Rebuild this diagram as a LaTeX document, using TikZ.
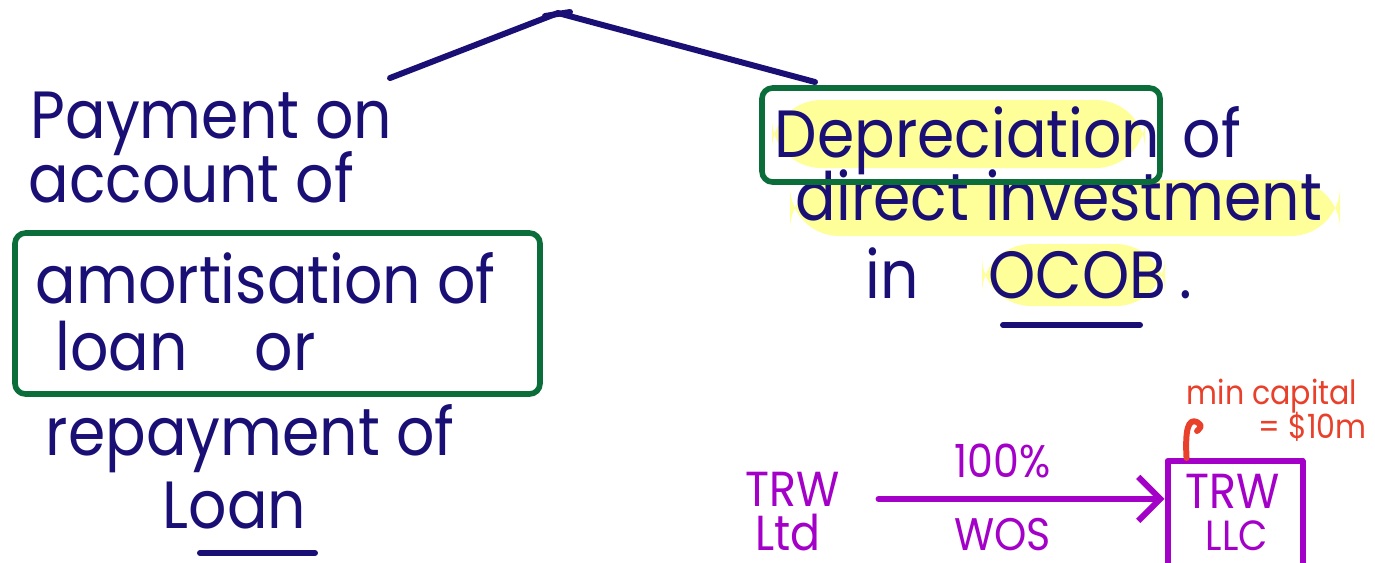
\documentclass[tikz,border=0pt]{standalone}
\usepackage{fontspec}
\setmainfont{Poppins}
\newfontfamily\handfont{Poppins}[FakeStretch=0.9]
\usetikzlibrary{arrows.meta}

\definecolor{inkblue}{HTML}{1A0F75}
\definecolor{inkgreen}{HTML}{0B6E3A}
\definecolor{hilite}{HTML}{FFFF99}
\definecolor{inkpurple}{HTML}{A300C8}
\definecolor{inkred}{HTML}{E8402A}

\begin{document}
\begin{tikzpicture}[line cap=round, line join=round,
  ink/.style={text=inkblue, font=\handfont\fontsize{19}{22}\selectfont, inner sep=0pt, anchor=base west},
  note/.style={text=inkpurple, font=\handfont\fontsize{14}{16}\selectfont, inner sep=0pt, anchor=base west},
  aside/.style={text=inkred, font=\handfont\fontsize{9.5}{11}\selectfont, inner sep=0pt, anchor=base west},
  penline/.style={line width=1.7pt},
  greenbox/.style={draw=inkgreen, line width=1.6pt, rounded corners=3pt},
  hl/.style={fill=hilite, rounded corners=14pt},
  wosarrow/.style={penline, draw=inkpurple, -{Straight Barb[length=2.2mm, width=4.4mm, line width=1.7pt]}}]

\useasboundingbox (0,0) rectangle (13.75,-5.62);
\clip (0,0) rectangle (13.75,-5.62);

%% ===================== branching strokes at the top =====================
\coordinate (peak)    at (5.58,-0.13);
\coordinate (lbranch) at (3.90,-0.78);
\coordinate (rbranch) at (8.15,-0.82);
\draw[penline, inkblue] (lbranch) -- (peak) -- (rbranch);
\draw[penline, inkblue] (5.45,-0.16) -- (5.70,-0.12);

%% ===================== left column: loan payments =====================
\node[ink] (pay)  at (0.30,-1.38) {Payment on};
\node[ink] (acc)  at (0.28,-2.02) {account of};
\node[ink] (amo)  at (0.35,-3.03) {amortisation of};
\node[ink] (loan) at (0.55,-3.70) {loan\hspace{1em}or};
\node[ink] (rep)  at (0.45,-4.55) {repayment of};
\node[ink] (Loan) at (1.62,-5.28) {Loan};
\draw[penline, inkblue] (2.00,-5.53) -- (3.15,-5.53);

% box round the amortisation lines
\draw[greenbox] (0.15,-2.33) rectangle (5.40,-3.94);

%% ===================== right column: depreciation =====================
% highlighter strokes (behind the text)
\fill[hl] (7.72,-1.00) rectangle (11.45,-1.68);
\fill[hl] (7.90,-1.80) rectangle (13.40,-2.36);
\fill[hl] (9.82,-2.44) rectangle (11.65,-3.06);

\node[ink] (dep)  at (7.74,-1.57) {Depreciation};
\node[ink] (of)   at (11.82,-1.57) {of};
\node[ink] (dir)  at (7.95,-2.20) {direct investment};
\node[ink] (in)   at (8.65,-2.98) {in};
\node[ink] (ocob) at (9.88,-2.98) {OCOB\hspace{0.2em}.};
\draw[penline, inkblue] (10.03,-3.25) -- (11.40,-3.25);

\draw[greenbox] (7.62,-0.88) rectangle (11.60,-1.82);

%% ===================== TRW Ltd -> TRW LLC =====================
\node[note] (trw) at (7.45,-5.06) {TRW};
\node[note] (ltd) at (7.55,-5.50) {Ltd};

\node[draw=inkpurple, penline, minimum width=1.35cm, minimum height=1.6cm, anchor=north]
  (llcbox) at (12.35,-4.58) {};
\node[note] (llcname) at (11.85,-5.08) {TRW};
\node[note, font=\handfont\fontsize{12}{14}\selectfont] (llc) at (12.05,-5.50) {LLC};

\draw[wosarrow, shorten <=0.38cm]
  ([yshift=-0.1cm]trw.east) -- ([yshift=-0.1cm]trw.east -| llcbox.west)
  node[midway, above=0.18cm, note, anchor=south, font=\handfont\fontsize{13}{15}\selectfont] (pct) {100\%}
  node[midway, below=0.16cm, note, anchor=north, font=\handfont\fontsize{13}{15}\selectfont] (wos) {WOS};

% capital requirement note
\node[aside] (mincap) at (11.86,-4.04) {min capital};
\node[aside] (tenm)   at (12.58,-4.38) {= \$10m};
\draw[penline, inkred] ([xshift=0.22cm]llcbox.north west)
  .. controls (11.85,-4.30) and (11.88,-4.18) .. (11.97,-4.22)
  .. controls (12.02,-4.26) .. (11.97,-4.31);

\end{tikzpicture}
\end{document}
